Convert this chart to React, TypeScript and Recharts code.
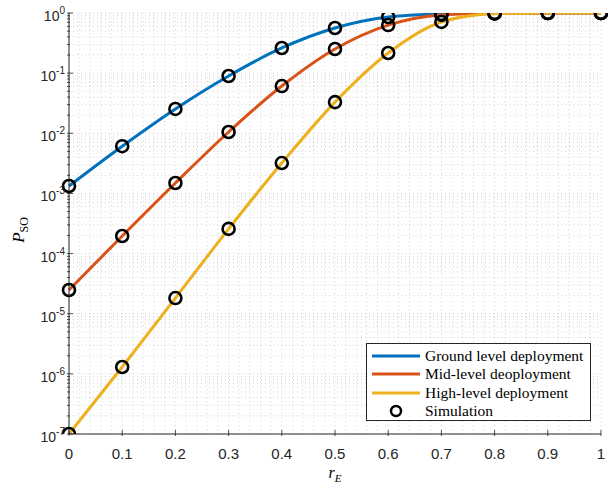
import { LineChart, Line, XAxis, YAxis, CartesianGrid, Legend } from 'recharts';

const rE = [0, 0.1, 0.2, 0.3, 0.4, 0.5, 0.6, 0.7, 0.8, 0.9, 1];
const ground = [1.33e-3, 6.1e-3, 0.0254, 0.0897, 0.262, 0.563, 0.857, 0.965, 0.998, 1, 1];
const mid = [2.48e-5, 1.96e-4, 1.49e-3, 0.0105, 0.061, 0.252, 0.63, 0.93, 0.995, 1, 1];
const high = [1e-7, 1.3e-6, 1.82e-5, 2.57e-4, 3.2e-3, 0.033, 0.216, 0.71, 0.975, 0.999, 1];

const xTicks = [0, 0.1, 0.2, 0.3, 0.4, 0.5, 0.6, 0.7, 0.8, 0.9, 1];
const xTickLabels = ['0', '0.1', '0.2', '0.3', '0.4', '0.5', '0.6', '0.7', '0.8', '0.9', '1'];
const decades = [-7, -6, -5, -4, -3, -2, -1, 0];

const legendNames = ['Ground level deployment', 'Mid-level deoployment', 'High-level deployment', 'Simulation'];
const colors = ['#0072BD', '#D95319', '#EDB120'];

const data = rE.map((x, i) => ({ x, ground: ground[i], mid: mid[i], high: high[i] }));

// all log ticks (1..9 x 10^k) for minor grid and minor ticks
const yTicks: number[] = [];
decades.slice(0, -1).forEach((k) => {
  for (let m = 1; m < 10; m++) yTicks.push(Number((m * Math.pow(10, k)).toPrecision(3)));
});
yTicks.push(1);

const xMinor: number[] = [];
for (let i = 0; i <= 50; i++) xMinor.push(Number((i * 0.02).toFixed(2)));

const axisColor = '#262626';
const sans = '"Liberation Sans", Arial, Helvetica, sans-serif';
const serif = '"Liberation Serif", "Times New Roman", serif';

const isMajor = (v: number) => Math.abs(Math.log10(v) - Math.round(Math.log10(v))) < 1e-6;

const LeftTick = (props: any) => {
  const { x, y, payload } = props;
  const v = payload.value;
  const major = isMajor(v);
  const e = Math.round(Math.log10(v));
  return (
    <g>
      <line x1={x} y1={y} x2={x + (major ? 6 : 3)} y2={y} stroke={axisColor} strokeWidth={0.8} />
      {major && (
        <text x={x - 2} y={y + 8} textAnchor="end" fontFamily={sans} fontSize={14} fill={axisColor}>
          10<tspan dy={-7} fontSize={10}>{e}</tspan>
        </text>
      )}
    </g>
  );
};

const RightTick = (props: any) => {
  const { x, y, payload } = props;
  const major = isMajor(payload.value);
  return <line x1={x} y1={y} x2={x - (major ? 6 : 3)} y2={y} stroke={axisColor} strokeWidth={0.8} />;
};

const BottomTick = (props: any) => {
  const { x, y, payload, index } = props;
  return (
    <g>
      <line x1={x} y1={y} x2={x} y2={y - 6} stroke={axisColor} strokeWidth={0.8} />
      <text x={x} y={y + 23} textAnchor="middle" fontFamily={sans} fontSize={15} fill={axisColor}>
        {xTickLabels[index] ?? payload.value}
      </text>
    </g>
  );
};

const TopTick = (props: any) => {
  const { x, y } = props;
  return <line x1={x} y1={y} x2={x} y2={y + 6} stroke={axisColor} strokeWidth={0.8} />;
};

const LegendBox = () => (
  <div
    style={{
      position: 'absolute',
      left: 366,
      top: 343,
      width: 225,
      height: 78,
      border: '1px solid #262626',
      background: '#fff',
      boxSizing: 'border-box',
      fontFamily: serif,
      fontSize: 15.5,
      color: '#000',
    }}
  >
    {legendNames.map((name, i) => (
      <div key={name} style={{ position: 'absolute', left: 0, top: 3 + i * 18.4, height: 18, display: 'flex', alignItems: 'center' }}>
        <svg width={58} height={18} style={{ display: 'block' }}>
          {i < 3 ? (
            <line x1={5} y1={9} x2={53} y2={9} stroke={colors[i]} strokeWidth={3} />
          ) : (
            <circle cx={29} cy={9} r={5} fill="none" stroke="#000" strokeWidth={2.5} />
          )}
        </svg>
        <span style={{ whiteSpace: 'nowrap' }}>{name}</span>
      </div>
    ))}
  </div>
);

export default function App() {
  const dot = { r: 6, stroke: '#000', strokeWidth: 2.6, fill: 'none' };
  return (
    <div style={{ position: 'absolute', left: 0, top: 0, width: 608, height: 489, background: '#fff' }}>
      <LineChart width={608} height={489} data={data} margin={{ top: 13, right: 7, left: 0, bottom: 0 }}>
        <CartesianGrid
          horizontalValues={yTicks}
          verticalValues={xMinor}
          stroke="#d2d2d2"
          strokeDasharray="1 3"
          strokeWidth={1}
        />
        <XAxis
          dataKey="x"
          type="number"
          domain={[0, 1]}
          ticks={xTicks}
          height={55}
          tickSize={0}
          tickLine={false}
          axisLine={{ stroke: axisColor }}
          tick={<BottomTick />}
          interval={0}
        />
        <XAxis
          xAxisId="top"
          orientation="top"
          dataKey="x"
          type="number"
          domain={[0, 1]}
          ticks={xTicks}
          height={0}
          tickSize={0}
          tickLine={false}
          axisLine={{ stroke: axisColor }}
          tick={<TopTick />}
          interval={0}
        />
        <YAxis
          type="number"
          scale="log"
          domain={[1e-7, 1]}
          allowDataOverflow
          ticks={yTicks}
          width={69}
          tickSize={0}
          tickLine={false}
          axisLine={{ stroke: axisColor }}
          tick={<LeftTick />}
          interval={0}
        />
        <YAxis
          yAxisId="right"
          orientation="right"
          type="number"
          scale="log"
          domain={[1e-7, 1]}
          allowDataOverflow
          ticks={yTicks}
          width={0}
          tickSize={0}
          tickLine={false}
          axisLine={{ stroke: axisColor }}
          tick={<RightTick />}
          interval={0}
        />
        <Line type="monotone" dataKey="ground" stroke={colors[0]} strokeWidth={3} dot={false} isAnimationActive={false} />
        <Line type="monotone" dataKey="mid" stroke={colors[1]} strokeWidth={3} dot={false} isAnimationActive={false} />
        <Line type="monotone" dataKey="high" stroke={colors[2]} strokeWidth={3} dot={false} isAnimationActive={false} />
        <Line dataKey="ground" stroke="none" dot={dot} legendType="none" isAnimationActive={false} />
        <Line dataKey="mid" stroke="none" dot={dot} legendType="none" isAnimationActive={false} />
        <Line dataKey="high" stroke="none" dot={dot} legendType="none" isAnimationActive={false} />
        <Legend content={() => null} />
        <text x={335} y={478} textAnchor="middle" fontFamily={serif} fontSize={16} fontStyle="italic">
          r<tspan fontSize={11} dy={4}>E</tspan>
        </text>
        <text transform="translate(24,230) rotate(-90)" textAnchor="middle" fontFamily={serif} fontSize={17}>
          <tspan fontStyle="italic">P</tspan>
          <tspan fontSize={12} dy={4}>SO</tspan>
        </text>
      </LineChart>
      <LegendBox />
    </div>
  );
}
